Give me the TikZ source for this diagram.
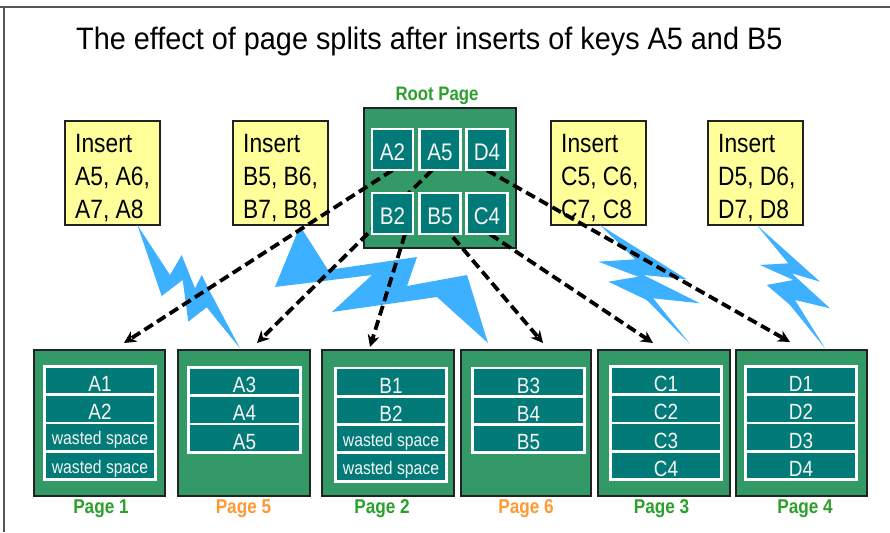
\documentclass[tikz,border=0pt]{standalone}
\usepackage{fontspec}
\setmainfont{Liberation Sans}[FakeStretch=0.86]
\newfontfamily\titlefont{Liberation Sans}[FakeStretch=0.93]
\usetikzlibrary{arrows.meta,calc}

\definecolor{pagegreen}{HTML}{339966}
\definecolor{cellteal}{HTML}{027B78}
\definecolor{noteyellow}{HTML}{FFFF99}
\definecolor{boltblue}{HTML}{3DB1FF}
\definecolor{labelgreen}{HTML}{2CA02C}
\definecolor{labelorange}{HTML}{FF9933}
\definecolor{edgedark}{HTML}{222222}
\definecolor{framegray}{HTML}{555555}

\begin{document}
\begin{tikzpicture}[x=1pt,y=-1pt,
  pagebox/.style={draw=edgedark,line width=1.5pt,fill=pagegreen,
    minimum width=#1,minimum height=146pt,inner sep=0pt},
  rootbox/.style={draw=edgedark,line width=1.5pt,fill=pagegreen,
    minimum width=152pt,minimum height=140pt,inner sep=0pt},
  cellslot/.style={minimum width=41pt,minimum height=41pt,inner sep=0pt},
  rootcell/.style={cellslot,draw=white,line width=2.2pt,fill=cellteal,
    text=white!92!gray,
    font=\fontsize{24}{24}\selectfont,text height=21pt,text depth=0pt},
  keyrow/.style={draw=white,line width=2.8pt,fill=cellteal,
    minimum width=111.5pt,minimum height=28.3pt,inner sep=0pt,text=white!92!gray,
    font=\fontsize{22}{22}\selectfont,text height=22pt,text depth=0pt},
  wasterow/.style={keyrow,font=\fontsize{18.3}{18.3}\selectfont,text height=15pt},
  notebox/.style={draw=edgedark,line width=1.3pt,fill=noteyellow,
    minimum width=95pt,minimum height=104pt,inner sep=0pt},
  notetext/.style={anchor=base west,inner sep=0pt,
    font=\fontsize{26.5}{33}\selectfont,text=black},
  pagelabel/.style={anchor=base,inner sep=0pt,font=\fontsize{20}{20}\selectfont\bfseries},
  bolt/.style={fill=boltblue,draw=none},
  splitarrow/.style={draw=black,line width=3.8pt,dash pattern=on 10pt off 5pt,
    -{Stealth[length=12pt,width=12pt]}}
]
\useasboundingbox (0,0) rectangle (890,532);

% sheet frame
\draw[framegray,line width=2pt] (0,7) -- (890,7);
\draw[framegray,line width=2pt] (3.5,7) -- (3.5,532);

% title
\node[anchor=base west,inner sep=0pt,font=\titlefont\fontsize{31}{31}\selectfont] (title)
  at (76,50) {The effect of page splits after inserts of keys A5 and B5};

% insert notes
\node[notebox] (insA) at (112.5,173) {};
\node[notebox] (insB) at (280.5,173) {};
\node[notebox] (insC) at (598.5,173) {};
\node[notebox] (insD) at (755.5,173) {};
\node[notetext] (insAt) at (75,152) {\begin{tabular}[t]{@{}l@{}}Insert\\A5, A6,\\A7, A8\end{tabular}};
\node[notetext] (insBt) at (243,152) {\begin{tabular}[t]{@{}l@{}}Insert\\B5, B6,\\B7, B8\end{tabular}};
\node[notetext] (insCt) at (561,152) {\begin{tabular}[t]{@{}l@{}}Insert\\C5, C6,\\C7, C8\end{tabular}};
\node[notetext] (insDt) at (718,152) {\begin{tabular}[t]{@{}l@{}}Insert\\D5, D6,\\D7, D8\end{tabular}};

% lightning bolts from the notes down to the split pages
\fill[bolt] (137.3,225) -- (170,275) -- (181.7,255) -- (195,288.3) -- (201.7,275)
  -- (210,291.7) -- (240,348.3) -- (206.7,307.3) -- (188.3,321.7) -- (182.7,280)
  -- (161.7,296) -- cycle;
\fill[bolt] (300,226) -- (328,270) -- (417,257) -- (407,286) -- (467,275)
  -- (488,343) -- (437,297) -- (332,312) -- (372,275) -- (275,287) -- cycle;
\fill[bolt] (600,225) -- (686.7,279.3) -- (643.3,275) -- (700,303.3) -- (653.3,298.3)
  -- (690,344) -- (646.7,300) -- (608.3,281.7) -- (638.3,276.7) -- (598.3,261.7)
  -- (635,259.3) -- cycle;
\fill[bolt] (756.7,225) -- (820,281.7) -- (791.7,273.3) -- (830,308.3) -- (795,300)
  -- (825,348.3) -- (790,305) -- (766.7,285) -- (793.3,280) -- (760,265)
  -- (788.3,263.3) -- cycle;

% root page
\node[font=\fontsize{19.5}{19.5}\selectfont\bfseries,text=labelgreen,inner sep=0pt,anchor=base]
  (rootlabel) at (437,100) {Root Page};
\node[rootbox] (root) at (440,178) {};

% arrow targets just above the leaf pages
\coordinate (e1) at (124,343);
\coordinate (e5) at (257,343);
\coordinate (e2) at (370,347);
\coordinate (e6) at (543,343);
\coordinate (e3) at (653,343);
\coordinate (e4) at (790,342);

% key slots of the root page (the arrows start on them)
\node[cellslot] (cA2) at (392.5,149.5) {};
\node[cellslot] (cA5) at (440,149.5) {};
\node[cellslot] (cD4) at (487,149.5) {};
\node[cellslot] (cB2) at (392.5,213.5) {};
\node[cellslot] (cB5) at (440,213.5) {};
\node[cellslot] (cC4) at (487,213.5) {};

% dashed split arrows
\draw[splitarrow] (cA2.south) -- (e1);
\draw[splitarrow] ($(cA5.south)+(-8,0)$) -- (e5);
\draw[splitarrow] ($(cB2.south)+(12.5,0)$) -- (e2);
\draw[splitarrow] ($(cB5.south)+(13,3)$) -- (e6);
\draw[splitarrow] ($(cC4.south)+(3,0)$) -- (e3);
\draw[splitarrow] (cD4.south) -- (e4);

% visible root cells on top of the arrows
\node[rootcell] (kA2) at (cA2) {A2};
\node[rootcell] (kA5) at (cA5) {A5};
\node[rootcell] (kD4) at (cD4) {D4};
\node[rootcell] (kB2) at (cB2) {B2};
\node[rootcell] (kB5) at (cB5) {B5};
\node[rootcell] (kC4) at (cC4) {C4};

% leaf pages
\node[pagebox=131pt] (p1) at (99.5,423) {};
\node[pagebox=132pt] (p5) at (244,423) {};
\node[pagebox=132pt] (p2) at (388,423) {};
\node[pagebox=130pt] (p6) at (526,423) {};
\node[pagebox=132pt] (p3) at (664,423) {};
\node[pagebox=131pt] (p4) at (801.5,423) {};

% page 1
\node[keyrow] (p1r1) at (100,380.6) {A1};
\node[keyrow] (p1r2) at (100,408.9) {A2};
\node[wasterow] (p1r3) at (100,437.2) {wasted space};
\node[wasterow] (p1r4) at (100,465.5) {wasted space};
% page 5
\node[keyrow] (p5r1) at (244.5,381.6) {A3};
\node[keyrow] (p5r2) at (244.5,409.9) {A4};
\node[keyrow] (p5r3) at (244.5,438.2) {A5};
% page 2
\node[keyrow] (p2r1) at (391,382.1) {B1};
\node[keyrow] (p2r2) at (391,410.4) {B2};
\node[wasterow] (p2r3) at (391,438.7) {wasted space};
\node[wasterow] (p2r4) at (391,467) {wasted space};
% page 6
\node[keyrow] (p6r1) at (528.5,382.1) {B3};
\node[keyrow] (p6r2) at (528.5,410.4) {B4};
\node[keyrow] (p6r3) at (528.5,438.7) {B5};
% page 3
\node[keyrow] (p3r1) at (666,380.6) {C1};
\node[keyrow] (p3r2) at (666,408.9) {C2};
\node[keyrow] (p3r3) at (666,437.2) {C3};
\node[keyrow] (p3r4) at (666,465.5) {C4};
% page 4
\node[keyrow] (p4r1) at (801,380.6) {D1};
\node[keyrow] (p4r2) at (801,408.9) {D2};
\node[keyrow] (p4r3) at (801,437.2) {D3};
\node[keyrow] (p4r4) at (801,465.5) {D4};

% page captions
\node[pagelabel,text=labelgreen] (l1) at (101,513) {Page 1};
\node[pagelabel,text=labelorange] (l5) at (243.5,513) {Page 5};
\node[pagelabel,text=labelgreen] (l2) at (382,513) {Page 2};
\node[pagelabel,text=labelorange] (l6) at (526,513) {Page 6};
\node[pagelabel,text=labelgreen] (l3) at (661.5,513) {Page 3};
\node[pagelabel,text=labelgreen] (l4) at (805,513) {Page 4};
\end{tikzpicture}
\end{document}
